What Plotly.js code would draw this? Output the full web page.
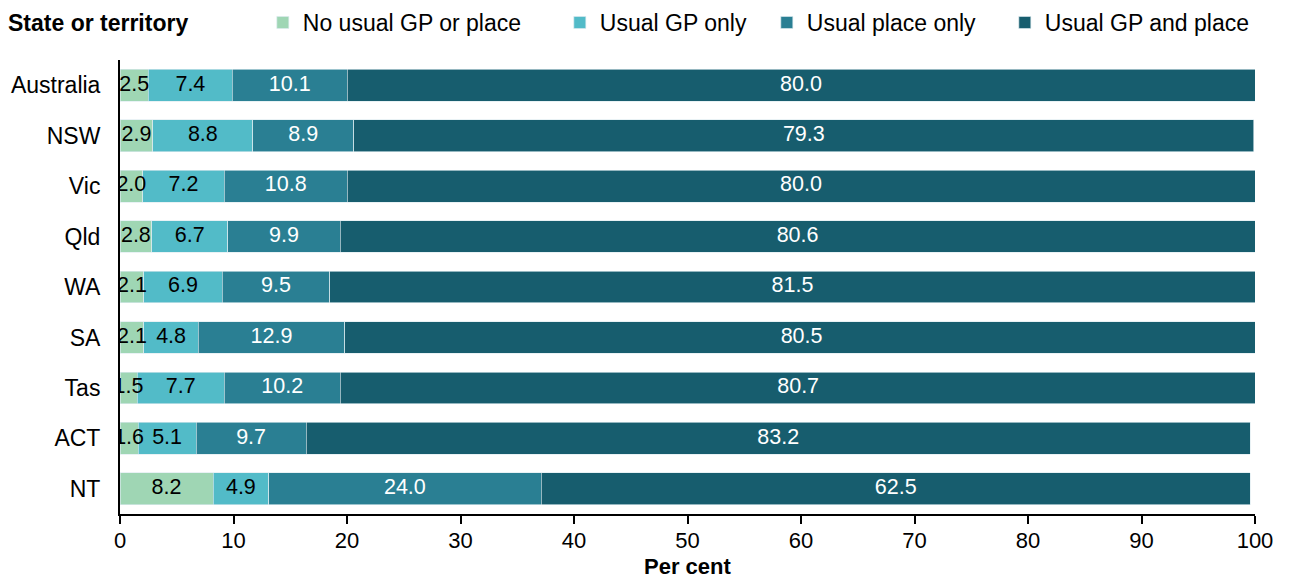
<!DOCTYPE html>
<html>
<head>
<meta charset="utf-8">
<script src="https://cdn.plot.ly/plotly-3.0.1.min.js"></script>
<style>html,body{margin:0;padding:0;background:#fff;}#chart{width:1289px;height:578px;}</style>
</head>
<body>
<div id="chart"></div>
<script>
const categories = ['Australia','NSW','Vic','Qld','WA','SA','Tas','ACT','NT'];
const seriesNames = ['No usual GP or place','Usual GP only','Usual place only','Usual GP and place'];
const noUsual     = [2.5, 2.9, 2.0, 2.8, 2.1, 2.1, 1.5, 1.6, 8.2];
const gpOnly      = [7.4, 8.8, 7.2, 6.7, 6.9, 4.8, 7.7, 5.1, 4.9];
const placeOnly   = [10.1, 8.9, 10.8, 9.9, 9.5, 12.9, 10.2, 9.7, 24.0];
const gpAndPlace  = [80.0, 79.3, 80.0, 80.6, 81.5, 80.5, 80.7, 83.2, 62.5];
const xTicks = [0,10,20,30,40,50,60,70,80,90,100];

const series = [noUsual, gpOnly, placeOnly, gpAndPlace];
const colors = ['#9fd6b4', '#52bbc8', '#2a7f93', '#175d6e'];
const textColors = ['#000000', '#000000', '#ffffff', '#ffffff'];
const legendWidths = [252, 162, 193, undefined];
const FONT = 'Arial, "Liberation Sans", sans-serif';

const traces = [];
series.forEach((vals, i) => {
  const t = {
    type: 'bar', orientation: 'h', name: seriesNames[i],
    y: categories, x: vals,
    marker: {color: colors[i], line: {color: 'rgba(220,235,240,0.8)', width: 0.8}},
    hoverinfo: 'x+name', textposition: 'none'
  };
  if (legendWidths[i]) t.legendwidth = legendWidths[i];
  traces.push(t);
});
// label traces at segment midpoints
const cum = categories.map(() => 0);
series.forEach((vals, i) => {
  const mids = vals.map((v, k) => { const m = cum[k] + v / 2; cum[k] += v; return m; });
  traces.push({
    type: 'scatter', mode: 'text', showlegend: false, hoverinfo: 'skip',
    y: categories, x: mids, text: vals.map(v => v.toFixed(1)),
    textfont: {family: FONT, size: 21.5, color: textColors[i]}, textposition: 'middle center'
  });
});

const layout = {
  width: 1289, height: 578,
  margin: {l: 120, r: 34, t: 60, b: 64},
  paper_bgcolor: '#ffffff', plot_bgcolor: '#ffffff',
  barmode: 'stack', bargap: 0.37,
  font: {family: FONT, size: 22, color: '#000'},
  xaxis: {
    range: [0, 100], tickvals: xTicks, ticktext: xTicks.map(String),
    showgrid: false, zeroline: false,
    showline: true, linecolor: '#000', linewidth: 2,
    ticks: 'outside', ticklen: 8, tickwidth: 2, tickcolor: '#000',
    ticklabelstandoff: -2,
    tickfont: {family: FONT, size: 22, color: '#000'},
    fixedrange: true
  },
  yaxis: {
    type: 'category', categoryorder: 'array', categoryarray: categories,
    autorange: 'reversed',
    showgrid: false, zeroline: false,
    showline: true, linecolor: '#000', linewidth: 2,
    ticks: '', ticklen: 0, ticklabelstandoff: 13,
    tickfont: {family: FONT, size: 23, color: '#000'},
    fixedrange: true
  },
  legend: {
    orientation: 'h', xref: 'container', yref: 'container',
    x: 0.2039, xanchor: 'left', y: 0.961, yanchor: 'middle',
    font: {family: FONT, size: 23, color: '#000'}, traceorder: 'normal',
    itemwidth: 30, bgcolor: 'rgba(0,0,0,0)'
  },
  annotations: [{
    xref: 'paper', yref: 'paper', x: -0.1005, y: 1.0815, xanchor: 'left', yanchor: 'middle',
    text: '<b>State or territory</b>', showarrow: false,
    font: {family: FONT, size: 23, color: '#000'}
  }, {
    xref: 'paper', yref: 'paper', x: 0.5, y: -0.116, xanchor: 'center', yanchor: 'middle',
    text: '<b>Per cent</b>', showarrow: false,
    font: {family: FONT, size: 22, color: '#000'}
  }]
};

Plotly.newPlot('chart', traces, layout, {displayModeBar: false, staticPlot: true});
</script>
</body>
</html>
